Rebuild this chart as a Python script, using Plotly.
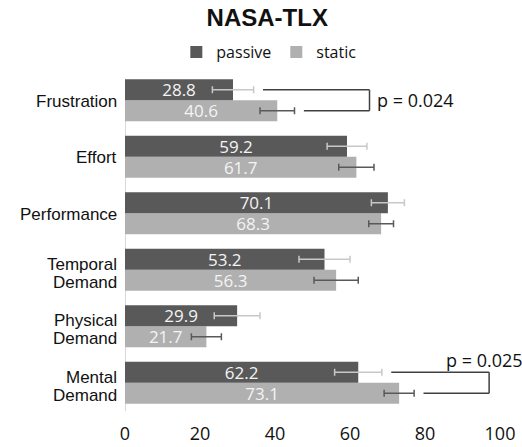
import plotly.graph_objects as go

# Data (bottom to top in the plotted order)
categories = ["Mental Demand", "Physical Demand", "Temporal Demand",
              "Performance", "Effort", "Frustration"]
category_lines = [["Mental", "Demand"], ["Physical", "Demand"], ["Temporal", "Demand"],
                  ["Performance"], ["Effort"], ["Frustration"]]
passive = [62.2, 29.9, 53.2, 70.1, 59.2, 28.8]
static = [73.1, 21.7, 56.3, 68.3, 61.7, 40.6]
passive_err = [6.3, 6.1, 6.8, 4.4, 5.3, 5.5]
static_err = [4.0, 4.0, 5.9, 3.3, 4.7, 4.6]
x_ticks = [0, 20, 40, 60, 80, 100]
# significance brackets: (category index, label)
significance = [(5, "p = 0.024"), (0, "p = 0.025")]

DARK = "#595959"
LIGHT = "#b0b0b0"
NUM_FONT = "Open Sans"
LBL_FONT = "Liberation Sans"
BARGAP = 0.26

fig = go.Figure()
fig.add_trace(go.Bar(
    y=categories, x=static, orientation="h", name="static",
    marker=dict(color=LIGHT, line=dict(width=0)),
    text=[f"{v:.1f}" for v in static], textposition="inside",
    insidetextanchor="middle", textangle=0, constraintext="none",
    textfont=dict(family=NUM_FONT, size=17, color="#f4f4f4"),
    error_x=dict(type="data", array=static_err, color=DARK, thickness=1.5, width=3.5),
    legendrank=2,
))
fig.add_trace(go.Bar(
    y=categories, x=passive, orientation="h", name="passive",
    marker=dict(color=DARK, line=dict(width=0)),
    text=[f"{v:.1f}" for v in passive], textposition="inside",
    insidetextanchor="middle", textangle=0, constraintext="none",
    textfont=dict(family=NUM_FONT, size=17, color="#f4f4f4"),
    error_x=dict(type="data", array=passive_err, color="#c8c8c8", thickness=1.5, width=3.5),
    legendrank=1,
))

half = (1 - BARGAP) / 4  # offset of each bar centre from category centre

# vertical axis line (from top of first bar down to bottom of the plot)
fig.add_shape(type="line", xref="x", yref="y", x0=0, x1=0,
              y0=-0.5, y1=len(categories) - 1 + 2 * half,
              line=dict(color="#d9d9d9", width=2), layer="below")

for idx, label in significance:
    top_start = passive[idx] + passive_err[idx] + 2.5
    bot_start = static[idx] + static_err[idx] + 2.5
    right = max(top_start, bot_start) + 17.5
    yt, yb = idx + half, idx - half
    line = dict(color="#404040", width=1.5)
    fig.add_shape(type="line", xref="x", yref="y", x0=top_start, x1=right, y0=yt, y1=yt, line=line)
    fig.add_shape(type="line", xref="x", yref="y", x0=bot_start, x1=right, y0=yb, y1=yb, line=line)
    fig.add_shape(type="line", xref="x", yref="y", x0=right, x1=right, y0=yt, y1=yb, line=line)
    if idx == 0:
        fig.add_annotation(x=right - 1.3, y=idx + 0.4, xref="x", yref="y", text=label,
                           showarrow=False, xanchor="center", yanchor="middle",
                           font=dict(family=NUM_FONT, size=18, color="#111111"))
    else:
        fig.add_annotation(x=right + 1.5, y=idx, xref="x", yref="y", text=label,
                           showarrow=False, xanchor="left", yanchor="middle",
                           font=dict(family=NUM_FONT, size=18, color="#111111"))

# category labels, one annotation per line for tight line spacing
LINE_H = 18.4
for idx, lines in enumerate(category_lines):
    n = len(lines)
    for k, txt in enumerate(lines):
        shift = ((n - 1) / 2 - k) * LINE_H - (3.5 if n > 1 else 1)
        fig.add_annotation(x=0, xref="paper", y=categories[idx], yref="y", text=txt,
                           showarrow=False, xanchor="right", yanchor="middle",
                           xshift=-6, yshift=shift,
                           font=dict(family=LBL_FONT, size=17, color="#111111"))

fig.update_layout(
    width=522, height=447,
    margin=dict(l=125, r=22, t=72, b=35, autoexpand=False),
    paper_bgcolor="white", plot_bgcolor="white",
    barmode="group", bargap=BARGAP, bargroupgap=0,
    title=dict(text="<b>NASA-TLX</b>", x=0.512, xref="container", xanchor="center",
               y=1 - 18 / 447, yref="container", yanchor="middle",
               font=dict(family=LBL_FONT, size=24, color="#111111")),
    legend=dict(orientation="h", x=0.515, xref="container", xanchor="center",
                y=1 - 52 / 447, yref="container", yanchor="middle",
                font=dict(family=NUM_FONT, size=16, color="#111111"),
                itemwidth=30, tracegroupgap=0),
    xaxis=dict(range=[0, 100], tickvals=x_ticks, showgrid=False, zeroline=False,
               showline=False, ticks="", ticklabelstandoff=9, automargin=False,
               tickfont=dict(family=NUM_FONT, size=18, color="#111111")),
    yaxis=dict(showgrid=False, zeroline=False, showline=False,
               ticks="", showticklabels=False, automargin=False),
    showlegend=True,
)

fig.write_html("out.html")
